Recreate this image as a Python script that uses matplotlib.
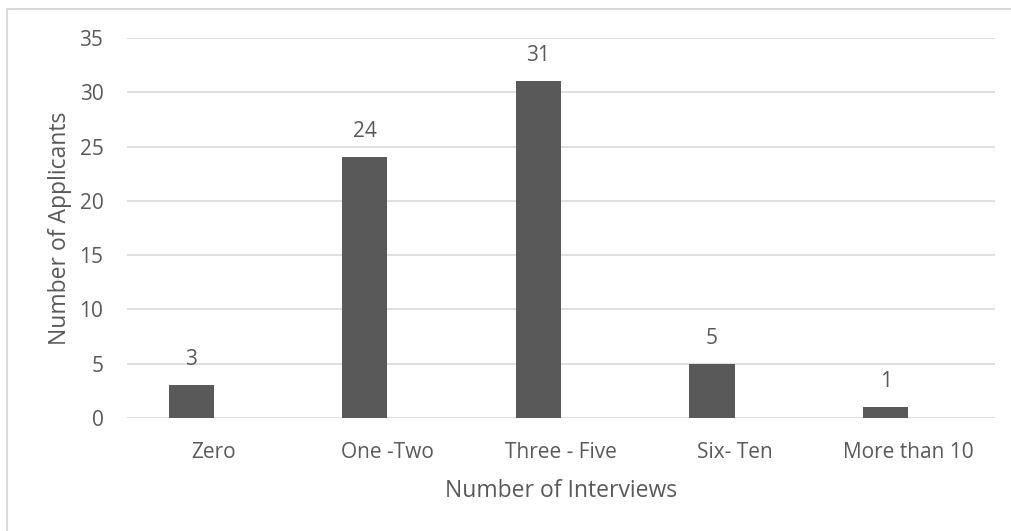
import matplotlib.pyplot as plt
import matplotlib.patches as patches
import numpy as np

# datos
categorias = ['Zero', 'One -Two', 'Three - Five', 'Six- Ten', 'More than 10']
aplicantes = [3, 24, 31, 5, 1]
ticks_y = [0, 5, 10, 15, 20, 25, 30, 35]

plt.rcParams['font.family'] = ['Open Sans', 'DejaVu Sans']
gris_texto = '#595959'

fig = plt.figure(figsize=(10.11, 5.31), dpi=100)
ax = fig.add_axes([127 / 1011, 1 - 418 / 531, 868 / 1011, 380 / 531])

x = np.arange(len(categorias))
barras = ax.bar(x - 0.13, aplicantes, width=0.26, color='#595959', zorder=3)

# etiquetas encima de cada barra
for b, v in zip(barras, aplicantes):
    ax.annotate(str(v), (b.get_x() + b.get_width() / 2, v), xytext=(0, 18.5),
                textcoords='offset points', ha='center', va='center',
                fontsize=15, color=gris_texto)

ax.set_xlim(-0.5, len(categorias) - 0.5)
ax.set_ylim(0, 35)
ax.set_yticks(ticks_y)
ax.set_xticks(x)
ax.set_xticklabels(categorias)
ax.grid(axis='y', color='#d9d9d9', linewidth=1.2, zorder=0)
ax.tick_params(length=0, labelsize=15, labelcolor=gris_texto)
ax.tick_params(axis='x', pad=17)
ax.tick_params(axis='y', pad=17)
for s in ax.spines.values():
    s.set_visible(False)

ax.set_xlabel('Number of Interviews', fontsize=16.5, color=gris_texto, labelpad=12)
ax.set_ylabel('Number of Applicants', fontsize=16.5, color=gris_texto, labelpad=5)

# borde del area del grafico (cortado a derecha y abajo)
fig.patches.append(patches.Rectangle((7 / 1011, -0.1), 1.2, 1 - 9 / 531 + 0.1,
                                     transform=fig.transFigure, fill=False,
                                     edgecolor='#d9d9d9', linewidth=1.5))

fig.savefig('out.png', dpi=100)
